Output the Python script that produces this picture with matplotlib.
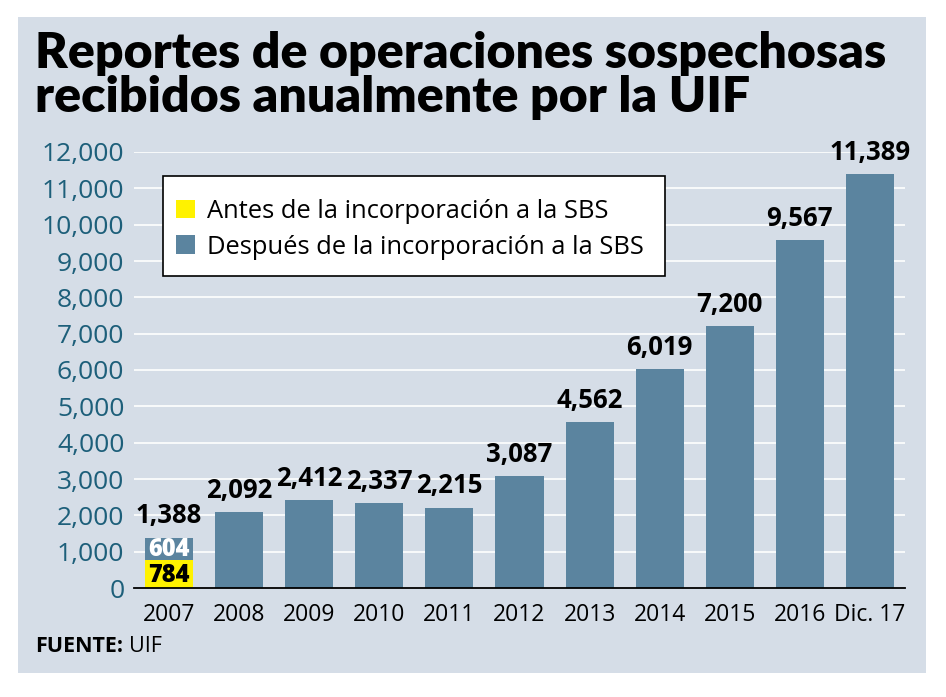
import matplotlib
matplotlib.use("Agg")
import matplotlib.pyplot as plt
from matplotlib.patches import Rectangle, Patch

years = ["2007", "2008", "2009", "2010", "2011", "2012", "2013", "2014", "2015", "2016", "Dic. 17"]
totals = [1388, 2092, 2412, 2337, 2215, 3087, 4562, 6019, 7200, 9567, 11389]
antes_2007 = 784
despues_2007 = 604
yticks = [0, 1000, 2000, 3000, 4000, 5000, 6000, 7000, 8000, 9000, 10000, 11000, 12000]
legend_labels = ["Antes de la incorporación a la SBS", "Después de la incorporación a la SBS"]
title_lines = ["Reportes de operaciones sospechosas", "recibidos anualmente por la UIF"]

BG = "#d5dde7"
BAR = "#5b849f"
YEL = "#fff200"
TICK = "#1d5f7a"
FONT = "Open Sans"

W, H = 946, 697
fig = plt.figure(figsize=(W / 100, H / 100), dpi=100)
fig.patch.set_facecolor("white")
fig.patches.append(Rectangle((18 / W, (H - 673) / H), (926 - 18) / W, (673 - 17) / H,
                             transform=fig.transFigure, facecolor=BG, edgecolor="none", zorder=-10))

ax = fig.add_axes([134 / W, (H - 588) / H, (905 - 134) / W, (588 - 152) / H])
ax.set_facecolor("none")
x = list(range(len(years)))
width = 0.686

# 2007 stacked, rest single
ax.bar(0, antes_2007, width=width, color=YEL, zorder=3)
ax.bar(0, despues_2007, bottom=antes_2007, width=width, color=BAR, zorder=3)
ax.bar(x[1:], totals[1:], width=width, color=BAR, zorder=3)

for xi, v in zip(x, totals):
    ax.annotate(f"{v:,}", (xi, v), xytext=(0, 6), textcoords="offset points",
                ha="center", va="bottom", fontsize=18.5, fontweight="bold",
                family=FONT, color="black", annotation_clip=False, zorder=5)
ax.text(0, antes_2007 / 2 - 40, f"{antes_2007:,}", ha="center", va="center",
        fontsize=17, fontweight="heavy", family=FONT, color="black", zorder=5)
ax.text(0, antes_2007 + despues_2007 / 2 - 40, f"{despues_2007:,}", ha="center", va="center",
        fontsize=17, fontweight="heavy", family=FONT, color="white", zorder=5)

ax.set_xlim(-0.5, 10.5)
ax.set_ylim(0, 12000)
ax.set_yticks(yticks)
ax.set_yticklabels([f"{t:,}" for t in yticks])
ax.set_xticks(x)
ax.set_xticklabels(years)
for lab in ax.get_yticklabels():
    lab.set_family(FONT); lab.set_fontsize(19); lab.set_color(TICK)
for lab in ax.get_xticklabels():
    lab.set_family(FONT); lab.set_fontsize(16.5); lab.set_color("black")
ax.tick_params(axis="y", length=0, pad=7)
ax.tick_params(axis="x", length=0, pad=11)
for t in yticks[1:]:
    ax.axhline(t, color="white", lw=1.2, zorder=1)
for s in ["top", "right", "left"]:
    ax.spines[s].set_visible(False)
ax.spines["bottom"].set_color("black")
ax.spines["bottom"].set_linewidth(1.3)
ax.spines["bottom"].set_zorder(4)

# legend frame (white box with black border)
ax.add_patch(Rectangle((163 / W, (H - 276) / H), (665 - 163) / W, (276 - 176) / H,
                       transform=fig.transFigure, facecolor="white", edgecolor="black",
                       linewidth=1.2, zorder=5, clip_on=False))
handles = [Patch(facecolor=YEL, edgecolor="none"), Patch(facecolor=BAR, edgecolor="none")]
leg = ax.legend(handles, legend_labels, loc="upper left",
                bbox_to_anchor=(176 / W, (H - 199) / H), bbox_transform=fig.transFigure,
                prop={"family": FONT, "size": 18.4}, frameon=False,
                handlelength=0.75, handleheight=0.75,
                handletextpad=0.45, borderpad=0, labelspacing=0.42, borderaxespad=0)
leg.set_zorder(6)

fig.text(35 / W, 1 - 68 / H, title_lines[0], ha="left", va="baseline", fontsize=36, family="Lato",
         fontweight="heavy", color="black")
fig.text(35 / W, 1 - 112 / H, title_lines[1], ha="left", va="baseline", fontsize=36, family="Lato",
         fontweight="heavy", color="black")
fig.text(35 / W, 1 - 647 / H, "FUENTE:", ha="left", va="center", fontsize=15.5,
         family=FONT, fontweight="bold", color="black")
fig.text(129 / W, 1 - 647 / H, "UIF", ha="left", va="center", fontsize=15.5,
         family=FONT, color="black")

fig.savefig("out.png", dpi=100, facecolor=fig.get_facecolor())
